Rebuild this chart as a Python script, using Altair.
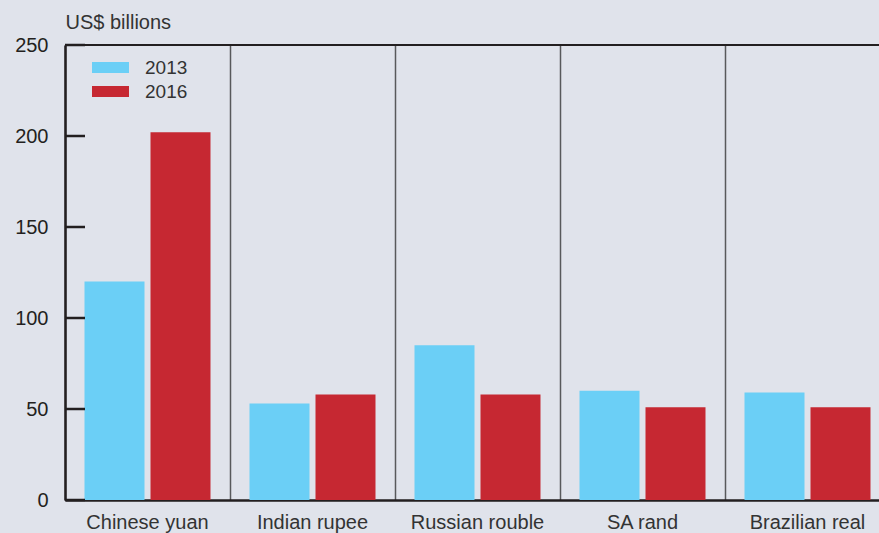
import altair as alt
import pandas as pd

categories = ["Chinese yuan", "Indian rupee", "Russian rouble", "SA rand", "Brazilian real"]
values_2013 = [120, 53, 85, 60, 59]
values_2016 = [202, 58, 58, 51, 51]
years = ["2013", "2016"]
colors = ["#6bcff6", "#c62832"]
y_ticks = [0, 50, 100, 150, 200, 250]

rows = []
for c, a, b in zip(categories, values_2013, values_2016):
    rows.append({"currency": c, "year": years[0], "value": a})
    rows.append({"currency": c, "year": years[1], "value": b})
df = pd.DataFrame(rows)
ticks_df = pd.DataFrame({"value": y_ticks})
top_df = pd.DataFrame({"value": [250]})

FONT = "Liberation Sans"
DARK = "#231f20"

yaxis = alt.Axis(
    title="US$ billions", titleAngle=0, titleAlign="left", titleX=0, titleY=-17,
    titleBaseline="alphabetic", titleFontSize=20, titleFontWeight="normal",
    titleColor="#333333", titleFont=FONT,
    values=y_ticks, ticks=False, grid=False, labelPadding=17,
    labelFontSize=20, labelColor=DARK, labelFont=FONT,
    domainColor=DARK, domainWidth=2.5,
)
yscale = alt.Scale(domain=[0, 250], nice=False)

bars = alt.Chart(df).mark_bar().encode(
    x=alt.X(
        "currency:N", sort=categories,
        scale=alt.Scale(range=[0, 825], paddingInner=0, paddingOuter=0),
        axis=alt.Axis(
            title=None, ticks=False, grid=True, bandPosition=0,
            gridColor="#58595b", gridWidth=1.5, gridOpacity=1,
            domainColor=DARK, domainWidth=2.5,
            labelFontSize=20, labelPadding=12, labelColor="#333333",
            labelAngle=0, labelFont=FONT,
        ),
    ),
    xOffset=alt.XOffset("year:N", scale=alt.Scale(paddingInner=0.0909, paddingOuter=0.2955)),
    y=alt.Y("value:Q", scale=yscale, axis=yaxis),
    color=alt.Color(
        "year:N",
        scale=alt.Scale(domain=years, range=colors),
        legend=alt.Legend(
            title=None, orient="none", legendX=36, legendY=13, padding=0,
            symbolType="M-3,-0.9H3V0.9H-3Z", symbolSize=152,
            symbolStrokeWidth=0, symbolOpacity=1,
            labelFontSize=19, labelFont=FONT, labelColor="#333333",
            labelOffset=25, rowPadding=4,
        ),
    ),
)

tick_marks = alt.Chart(ticks_df).mark_rule(color=DARK, strokeWidth=2.5).encode(
    y=alt.Y("value:Q", scale=yscale, axis=yaxis),
    x=alt.value(0),
    x2=alt.value(20),
)

top_line = alt.Chart(top_df).mark_rule(color=DARK, strokeWidth=2).encode(
    y=alt.Y("value:Q", scale=yscale, axis=yaxis),
)

chart = alt.layer(bars, tick_marks, top_line).properties(
    width=814,
    height=455,
    autosize=alt.AutoSizeParams(type="none"),
    padding={"left": 65, "top": 45, "right": 0, "bottom": 33},
    background="#e0e3eb",
).configure_view(stroke=None)

chart.save("out.html", embed_options={"renderer": "svg", "actions": False})
